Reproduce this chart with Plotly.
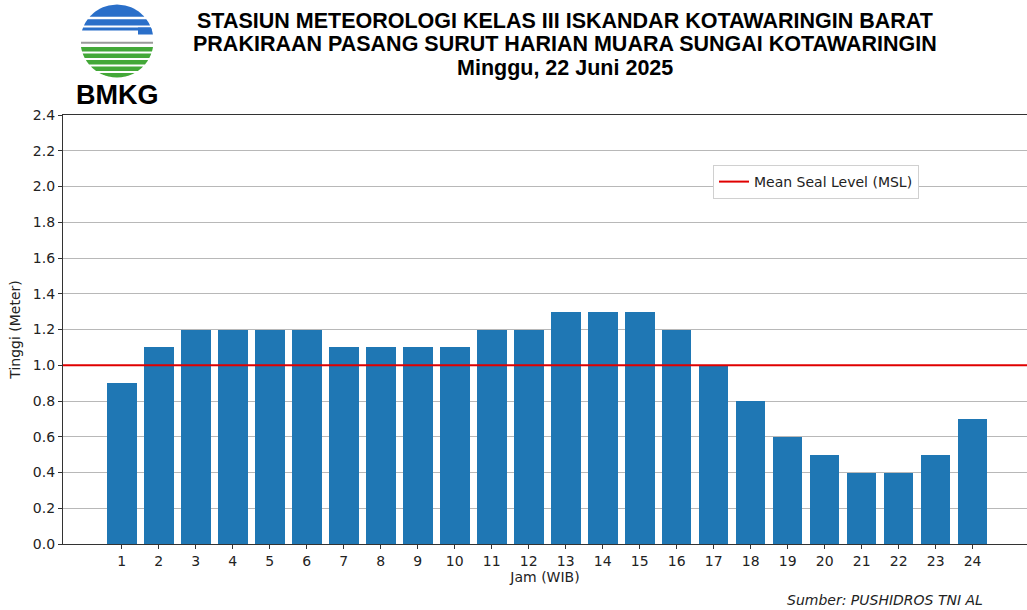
import numpy as np
import plotly.graph_objects as go

# ---- data ----
jam = list(range(1, 25))
tinggi = [0.9, 1.1, 1.2, 1.2, 1.2, 1.2, 1.1, 1.1, 1.1, 1.1, 1.2, 1.2,
          1.3, 1.3, 1.3, 1.2, 1.0, 0.8, 0.6, 0.5, 0.4, 0.4, 0.5, 0.7]
msl = 1.0
y_ticks = [0.0, 0.2, 0.4, 0.6, 0.8, 1.0, 1.2, 1.4, 1.6, 1.8, 2.0, 2.2, 2.4]
title_lines = ["STASIUN METEOROLOGI KELAS III ISKANDAR KOTAWARINGIN BARAT",
               "PRAKIRAAN PASANG SURUT HARIAN MUARA SUNGAI KOTAWARINGIN",
               "Minggu, 22 Juni 2025"]

W, H = 1027, 610
ML, MR, MT, MB = 63, 0, 115, 66
PW, PH = W - ML - MR, H - MT - MB


def px(x):
    return (x - ML) / PW


def py(y):
    return (H - MB - y) / PH


fig = go.Figure()
fig.add_trace(go.Bar(x=jam, y=tinggi, width=0.8, marker=dict(color="#1f77b4", line=dict(width=0)),
                     showlegend=False))
fig.add_trace(go.Scatter(x=[None], y=[None], mode="lines", line=dict(color="#e00000", width=2),
                         name="Mean Seal Level (MSL)", showlegend=True))
fig.add_hline(y=msl, line=dict(color="#e00000", width=2), layer="above")

# ---- logo drawn with shapes ----
cx, cy, r = 117, 41, 36.5


def band(y1, y2, color, xmin=None):
    ys1 = np.linspace(y1, y2, 14)
    left = [(cx - np.sqrt(max(r * r - (y - cy) ** 2, 0)), y) for y in ys1]
    if xmin is not None:
        left = [(max(a, xmin), b) for a, b in left]
    right = [(cx + np.sqrt(max(r * r - (y - cy) ** 2, 0)), y) for y in ys1[::-1]]
    pts = left + right
    path = "M " + " L ".join(f"{px(a):.5f},{py(b):.5f}" for a, b in pts) + " Z"
    fig.add_shape(type="path", path=path, xref="paper", yref="paper",
                  fillcolor=color, line=dict(width=0), layer="above")


band(4.5, 16.8, "#2a6fc9")
band(19.2, 25.5, "#2a6fc9")
band(27.5, 34.5, "#2a6fc9", xmin=138)
band(27.5, 30.5, "#2a6fc9")
for a, b in [(47, 51.5), (53.5, 58), (60, 64.5), (66.5, 71), (73, 78)]:
    band(a, b, "#43a838")
fig.add_shape(type="line", xref="paper", yref="paper", x0=px(81), x1=px(153), y0=py(42.7), y1=py(42.7),
              line=dict(color="#9a9a9a", width=2), layer="above")
fig.add_annotation(text="<b>BMKG</b>", xref="paper", yref="paper", x=px(117), y=py(95),
                   showarrow=False, font=dict(family="Liberation Sans", size=27, color="black"),
                   xanchor="center", yanchor="middle")

# ---- title ----
for i, t in enumerate(title_lines):
    fig.add_annotation(text=f"<b>{t}</b>", xref="paper", yref="paper", x=px(565), y=py(21 + 23.5 * i),
                       showarrow=False, font=dict(family="Liberation Sans", size=21.5, color="black"),
                       xanchor="center", yanchor="middle")

fig.add_annotation(text="<i>Sumber: PUSHIDROS TNI AL</i>", xref="paper", yref="paper", x=px(985), y=py(600),
                   showarrow=False, font=dict(family="DejaVu Sans", size=14, color="#222"),
                   xanchor="right", yanchor="middle")

fig.update_layout(
    width=W, height=H,
    margin=dict(l=ML, r=MR, t=MT, b=MB),
    plot_bgcolor="white", paper_bgcolor="white",
    font=dict(family="DejaVu Sans", size=14, color="#222"),
    bargap=0,
    legend=dict(x=px(713), y=py(165), xanchor="left", yanchor="top",
                bgcolor="white", bordercolor="#d0d0d0", borderwidth=1,
                font=dict(family="DejaVu Sans", size=14, color="#222")),
    xaxis=dict(range=[-0.59, 25.47], tickvals=jam, ticktext=[str(j) for j in jam],
               ticks="outside", ticklen=4, tickcolor="#333", showgrid=False, zeroline=False,
               showline=True, linecolor="#333", linewidth=1.2, mirror=True,
               title=dict(text="Jam (WIB)", standoff=4, font=dict(size=14))),
    yaxis=dict(range=[0, 2.4], tickvals=y_ticks, ticktext=[f"{v:.1f}" for v in y_ticks],
               ticks="outside", ticklen=4, tickcolor="#333", showgrid=True, gridcolor="#b8b8b8",
               gridwidth=1, zeroline=False, showline=True, linecolor="#333", linewidth=1.2,
               title=dict(text="Tinggi (Meter)", standoff=8, font=dict(size=14))),
)

fig.write_html("out.html", config={"displayModeBar": False},
               post_script="document.body.style.margin='0';document.body.style.overflow='hidden';")
